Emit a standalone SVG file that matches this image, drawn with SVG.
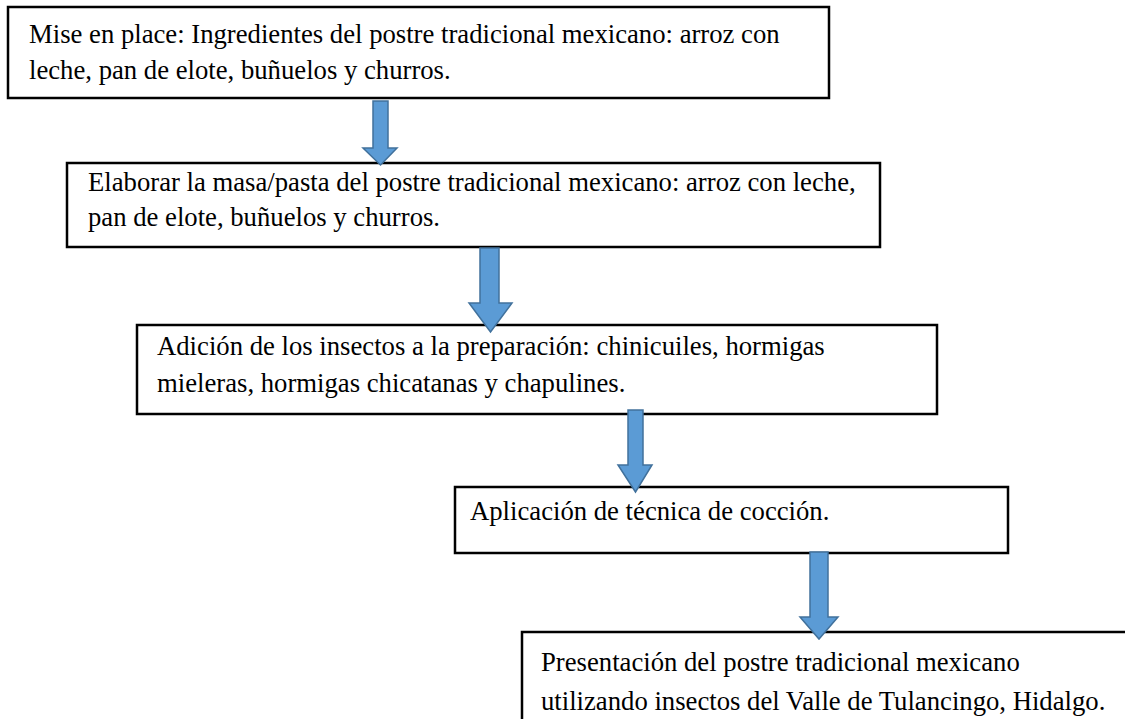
<svg xmlns="http://www.w3.org/2000/svg" width="1125" height="719" viewBox="0 0 1125 719">
<style>
.box{fill:#fff;stroke:#000;stroke-width:2.5}
.t{font-family:"Liberation Serif",serif;font-size:26.7px;fill:#000}
.arr{fill:#5B9BD5;stroke:#41719C;stroke-width:1.5;stroke-linejoin:miter}
</style>
<rect width="1125" height="719" fill="#fff"/>
<g id="n1"><rect class="box" x="8" y="7" width="821" height="91"/>
<text class="t" x="29" y="43">Mise en place: Ingredientes del postre tradicional mexicano: arroz con</text>
<text class="t" x="29" y="79">leche, pan de elote, buñuelos y churros.</text></g>
<g id="n2"><rect class="box" x="67" y="163" width="813" height="84"/>
<text class="t" x="88" y="191">Elaborar la masa/pasta del postre tradicional mexicano: arroz con leche,</text>
<text class="t" x="88" y="226">pan de elote, buñuelos y churros.</text></g>
<g id="n3"><rect class="box" x="137" y="325" width="800" height="89"/>
<text class="t" x="157" y="355">Adición de los insectos a la preparación: chinicuiles, hormigas</text>
<text class="t" x="157" y="392">mieleras, hormigas chicatanas y chapulines.</text></g>
<g id="n4"><rect class="box" x="455" y="487" width="553" height="66"/>
<text class="t" x="470" y="520">Aplicación de técnica de cocción.</text></g>
<g id="n5"><rect class="box" x="522" y="632" width="620" height="100"/>
<text class="t" x="541" y="671">Presentación del postre tradicional mexicano</text>
<text class="t" x="541" y="710">utilizando insectos del Valle de Tulancingo, Hidalgo.</text></g>
<g id="connectors">
<path class="arr" d="M373,101 H388 V148 H397 L380.5,165 L363,148 H373 Z"/>
<path class="arr" d="M480,248 H499 V303 H512 L490.5,332 L469,303 H480 Z"/>
<path class="arr" d="M628,410 H643 V465 H652 L635.5,492 L618,465 H628 Z"/>
<path class="arr" d="M810,552 H828 V617 H838 L819,639 L800,617 H810 Z"/>
</g>
</svg>
